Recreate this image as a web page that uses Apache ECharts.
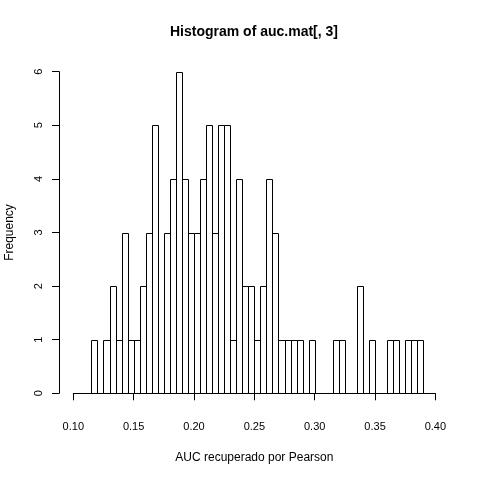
<!DOCTYPE html>
<html>
<head>
<meta charset="utf-8">
<script src="https://cdn.jsdelivr.net/npm/echarts@6/dist/echarts.min.js"></script>
<style>
  html, body { margin: 0; padding: 0; background: #fff; }
  #chartDiv { width: 480px; height: 480px; }
</style>
</head>
<body>
<div id="chartDiv"></div>
<script>
// histogram breaks: first break and bin width
var breakStart = 0.115;
var binWidth = 0.005;
// counts per bin
var counts = [1, 0, 1, 2, 1, 3, 1, 1, 2, 3,
              5, 0, 3, 4, 6, 4, 3, 3, 4, 5,
              3, 5, 5, 1, 4, 2, 2, 1, 2, 4,
              3, 1, 1, 1, 1, 0, 1, 0, 0, 0,
              1, 1, 0, 0, 2, 0, 1, 0, 0, 1,
              1, 0, 1, 1, 1];
var xTicks = [0.10, 0.15, 0.20, 0.25, 0.30, 0.35, 0.40];
var yTicks = [0, 1, 2, 3, 4, 5, 6];
var titleText = "Histogram of auc.mat[, 3]";
var xName = "AUC recuperado por Pearson";
var yName = "Frequency";

var FONT = "Liberation Sans";

var histDiv = echarts.init(document.getElementById("chartDiv"));

var binData = [];
for (var i = 0; i < counts.length; i++) {
    var lo = breakStart + i * binWidth;
    binData.push([lo, lo + binWidth, counts[i]]);
}

function renderBin(params, api) {
    var p0 = api.coord([api.value(0), 0]);
    var p1 = api.coord([api.value(1), api.value(2)]);
    if (api.value(2) <= 0) {
        return null;
    }
    return {
        type: "rect",
        shape: {
            x: Math.round(p0[0]) + 0.5,
            y: Math.round(p1[1]) + 0.5,
            width: Math.round(p1[0]) - Math.round(p0[0]),
            height: Math.round(p0[1]) - Math.round(p1[1])
        },
        style: { fill: "none", stroke: "#000", lineWidth: 1 }
    };
}

var histOption = {
    animation: false,
    backgroundColor: "#fff",
    textStyle: { fontFamily: FONT, color: "#000" },
    graphic: [{
        type: "text",
        x: 254,
        y: 32,
        style: {
            text: titleText,
            font: "bold 14px " + FONT,
            fill: "#000",
            textAlign: "center",
            textVerticalAlign: "middle"
        }
    }],
    grid: {
        left: 73.3, right: 44.6, top: 71.7, bottom: 86.7,
        containLabel: false, outerBoundsMode: "none"
    },
    xAxis: {
        type: "value",
        min: xTicks[0],
        max: xTicks[xTicks.length - 1],
        interval: 0.05,
        offset: 13,
        name: xName,
        nameLocation: "middle",
        nameGap: 45,
        nameTextStyle: { fontFamily: FONT, fontSize: 12, color: "#000" },
        axisLine: { show: true, lineStyle: { color: "#000", width: 1 } },
        axisTick: { show: true, length: 7, lineStyle: { color: "#000" } },
        axisLabel: {
            fontFamily: FONT, fontSize: 11, color: "#000", margin: 15,
            formatter: function (v) { return v.toFixed(2); }
        },
        splitLine: { show: false }
    },
    yAxis: {
        type: "value",
        min: yTicks[0],
        max: yTicks[yTicks.length - 1],
        interval: 1,
        offset: 14.3,
        name: yName,
        nameLocation: "middle",
        nameRotate: 90,
        nameGap: 43,
        nameTextStyle: { fontFamily: FONT, fontSize: 12, color: "#000" },
        axisLine: { show: true, lineStyle: { color: "#000", width: 1 } },
        axisTick: { show: true, length: 7, lineStyle: { color: "#000" } },
        axisLabel: { fontFamily: FONT, fontSize: 11, color: "#000", rotate: 90, margin: 15 },
        splitLine: { show: false }
    },
    series: [{
        type: "custom",
        renderItem: renderBin,
        encode: { x: [0, 1], y: 2 },
        data: binData
    }]
};

histDiv.setOption(histOption);
</script>
</body>
</html>
